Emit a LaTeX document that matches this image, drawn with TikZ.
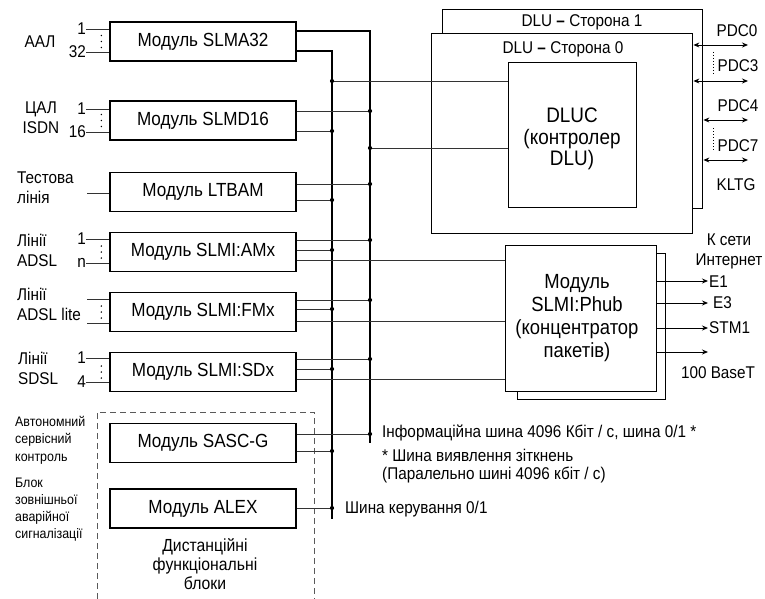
\documentclass[tikz,border=0pt]{standalone}
\usepackage{fontspec}
\setmainfont{Liberation Sans}[FakeStretch=0.9]
\usetikzlibrary{arrows.meta}
\begin{document}
\begin{tikzpicture}[x=1pt,y=-1pt,
  mod/.style={draw,line width=1.4pt,minimum width=186pt,minimum height=39pt,inner sep=0pt,font=\fontsize{19}{20}\selectfont},
  bigbox/.style={draw,line width=1.4pt,anchor=north west,inner sep=0pt},
  wire/.style={line width=0.9pt,draw=black!80},
  bus/.style={line width=2.8pt,line join=miter},
  lbl/.style={inner sep=0pt,font=\fontsize{17}{20}\selectfont},
  small/.style={inner sep=0pt,font=\fontsize{13.8}{17.5}\selectfont,align=left,anchor=north west},
  arr/.style={line width=0.9pt,-{Stealth[length=6pt,width=5pt]}},
  darr/.style={line width=0.9pt,{Stealth[length=6pt,width=5pt]}-{Stealth[length=6pt,width=5pt]}},
  vdots/.style={line width=1pt,dotted},
]
\useasboundingbox (0,0) rectangle (765,599);

% ---------------- modules
\node[mod] (slma)  at (203,41.5) {Модуль SLMA32};
\node[mod] (slmd)  at (203,120.5) {Модуль SLMD16};
\node[mod] (ltbam) at (203,192) {Модуль LTBAM};
\node[mod] (amx)   at (203,252) {Модуль SLMI:AMx};
\node[mod] (fmx)   at (203,312) {Модуль SLMI:FMx};
\node[mod] (sdx)   at (203,372) {Модуль SLMI:SDx};
\node[mod] (sasc)  at (203,443) {Модуль SASC-G};
\node[mod] (alex)  at (203,508.5) {Модуль ALEX};

% dashed group
\draw[line width=0.9pt,draw=black!65,dash pattern=on 6pt off 4pt] (97,599) -- (97,412) -- (314,412) -- (314,599);
\node[lbl,align=center,font=\fontsize{17.5}{19}\selectfont] (grp) at (205,564) {Дистанційні\\функціональні\\блоки};

% ---------------- left labels
\node[lbl] (aal) at (40,42) {ААЛ};
\node[lbl,anchor=east] (a1) at (86,29) {1};
\node[lbl,anchor=east] (a32) at (86,52) {32};
\draw[wire] (a1.east) -- (a1.east -| slma.west);
\draw[wire] (a32.east) -- (a32.east -| slma.west);

\node[lbl,align=center] (cal) at (41,118) {ЦАЛ\\ISDN};
\node[lbl,anchor=east] (d1) at (86,109) {1};
\node[lbl,anchor=east] (d16) at (86,132) {16};
\draw[wire] (d1.east) -- (d1.east -| slmd.west);
\draw[wire] (d16.east) -- (d16.east -| slmd.west);

\node[lbl,align=left,anchor=west] (test) at (17,188) {Тестова\\лінія};
\coordinate (t0) at (87,193);
\draw[wire] (t0) -- (t0 -| ltbam.west);

\node[lbl,align=left,anchor=west] (adsl) at (17,250.5) {Лінії\\ADSL};
\node[lbl,anchor=east] (m1) at (86,239) {1};
\node[lbl,anchor=east] (mn) at (86,263) {n};
\draw[wire] (m1.east) -- (m1.east -| amx.west);
\draw[wire] (mn.east |- 0,263) -- (mn.east |- 0,263 -| amx.west);

\node[lbl,align=left,anchor=west] (adsll) at (17,304) {Лінії\\ADSL lite};
\coordinate (f1) at (87,299);
\coordinate (f2) at (87,323);
\draw[wire] (f1) -- (f1 -| fmx.west);
\draw[wire] (f2) -- (f2 -| fmx.west);

\node[lbl,align=left,anchor=west] (sdsl) at (18,368.5) {Лінії\\SDSL};
\node[lbl,anchor=east] (s1) at (86,358) {1};
\node[lbl,anchor=east] (s4) at (86,382) {4};
\draw[wire] (s1.east) -- (s1.east -| sdx.west);
\draw[wire] (s4.east) -- (s4.east -| sdx.west);

% vertical dots near module inputs
\foreach \m in {slma,slmd,amx,fmx,sdx}{
  \foreach \dy in {-6,0,6}{
    \fill ([yshift=\dy pt]\m.west) ++(-8,0) circle (0.8);
  }
}

\node[small] (auto) at (15,416) {Автономний\\сервісний\\контроль};
\node[small,font=\fontsize{13.8}{17}\selectfont] (blok) at (15,478) {Блок\\зовнішньої\\аварійної\\сигналізації};

% ---------------- DLU
\node[bigbox,minimum width=260pt,minimum height=199pt] (dlu1) at (442,9) {};
\node[bigbox,fill=white,minimum width=261pt,minimum height=200pt] (dlu0) at (431,33) {};
\node[bigbox,minimum width=128pt,minimum height=145pt] (dluc) at (508,62) {};
\node[lbl] (dlu1t) at (582,22) {DLU \textbf{--} Сторона 1};
\node[lbl] (dlu0t) at (563,49) {DLU \textbf{--} Сторона 0};
\node[lbl,align=center,font=\fontsize{21}{21.5}\selectfont] (dluct) at (572,139) {DLUC\\(контролер\\DLU)};

% ---------------- Phub
\node[bigbox,minimum width=148pt,minimum height=146pt] (phubb) at (517,253) {};
\node[bigbox,fill=white,minimum width=151pt,minimum height=146pt] (phub) at (505,245) {};
\node[lbl,align=center,font=\fontsize{20.5}{23}\selectfont] (phubt) at (577,318) {Модуль\\SLMI:Phub\\(концентратор\\пакетів)};

% ---------------- buses
\coordinate (bLtop) at (332,51);
\coordinate (bLbot) at (332,519);
\coordinate (bRtop) at (370,31);
\coordinate (bRbot) at (370,443);
\draw[bus] (slma.east |- bRtop) -- (bRtop) -- (bRbot);
\draw[bus] (slma.east |- bLtop) -- (bLtop) -- (bLbot);

% junctions on right bus
\coordinate (r1) at (370,111);
\coordinate (r2) at (370,184);
\coordinate (r3) at (370,240);
\coordinate (r4) at (370,300);
\coordinate (r5) at (370,359);
\coordinate (r6) at (370,434);
% junctions on left bus
\coordinate (l1) at (332,131);
\coordinate (l2) at (332,200);
\coordinate (l3) at (332,250);
\coordinate (l4) at (332,309);
\coordinate (l5) at (332,369);
\coordinate (l6) at (332,451);
\coordinate (l7) at (332,508);

\draw[wire] (slmd.east |- r1) -- (r1);
\draw[wire] (slmd.east |- l1) -- (l1);
\draw[wire] (ltbam.east |- r2) -- (r2);
\draw[wire] (ltbam.east |- l2) -- (l2);
\draw[wire] (amx.east |- r3) -- (r3);
\draw[wire] (amx.east |- l3) -- (l3);
\draw[wire] (fmx.east |- r4) -- (r4);
\draw[wire] (fmx.east |- l4) -- (l4);
\draw[wire] (sdx.east |- r5) -- (r5);
\draw[wire] (sdx.east |- l5) -- (l5);
\draw[wire] (sasc.east |- r6) -- (r6);
\draw[wire] (sasc.east |- l6) -- (l6);
\draw[wire] (alex.east |- l7) -- (l7);

% to DLUC
\coordinate (l0) at (332,81);
\coordinate (r0) at (370,148);
\draw[wire] (l0) -- (l0 -| dluc.west);
\draw[wire] (r0) -- (r0 -| dluc.west);

% to Phub
\coordinate (p1) at (505,260);
\coordinate (p2) at (505,321);
\coordinate (p3) at (505,379);
\draw[wire] (amx.east |- p1) -- (p1 -| phub.west);
\draw[wire] (fmx.east |- p2) -- (p2 -| phub.west);
\draw[wire] (sdx.east |- p3) -- (p3 -| phub.west);

\foreach \c in {r0,r1,r2,r3,r4,r5,r6,l0,l1,l2,l3,l4,l5,l6,l7}{
  \fill (\c) circle (2.1);
}

% bus labels
\node[lbl,anchor=west] (info) at (382,433) {Інформаційна шина 4096 Кбіт / с, шина 0/1 *};
\node[lbl,anchor=west] (coll) at (382,455) {* Шина виявлення зіткнень};
\node[lbl,anchor=west] (par) at (382,475) {(Паралельно шині 4096 кбіт / с)};
\node[lbl,anchor=west] (ctl) at (345,509) {Шина керування 0/1};

% ---------------- PDC
\coordinate (pdc0) at (748,45);
\coordinate (pdc3) at (748,81);
\coordinate (pdc4) at (748,120);
\coordinate (pdc7) at (748,160);
\draw[darr] (pdc0 -| dlu0.east) -- (pdc0);
\draw[darr] (pdc3 -| dlu0.east) -- (pdc3);
\draw[darr] (pdc4 -| dlu1.east) -- (pdc4);
\draw[darr] (pdc7 -| dlu1.east) -- (pdc7);
\node[lbl] (tp0) at (737,31) {PDC0};
\node[lbl] (tp3) at (738,66) {PDC3};
\node[lbl] (tp4) at (738,106) {PDC4};
\node[lbl] (tp7) at (738,146) {PDC7};
\node[lbl] (kltg) at (736,185) {KLTG};
\draw[vdots] (713,52) -- (713,75);
\draw[vdots] (713,128) -- (713,152);

% ---------------- Phub outputs
\coordinate (e1) at (708,281);
\coordinate (e3) at (708,303);
\coordinate (stm) at (708,328);
\coordinate (bt) at (708,352);
\draw[arr] (e1 -| phub.east) -- (e1);
\draw[arr] (e3 -| phub.east) -- (e3);
\draw[arr] (stm -| phub.east) -- (stm);
\draw[arr] (bt -| phub.east) -- (bt);
\node[lbl,align=center] (inet) at (729,251) {К сети\\Интернет};
\node[lbl,anchor=west] (te1) at (709,282) {E1};
\node[lbl,anchor=west] (te3) at (713,303) {E3};
\node[lbl,anchor=west] (tstm) at (709,328) {STM1};
\node[lbl] (tbt) at (718,373) {100 BaseT};
\end{tikzpicture}
\end{document}
